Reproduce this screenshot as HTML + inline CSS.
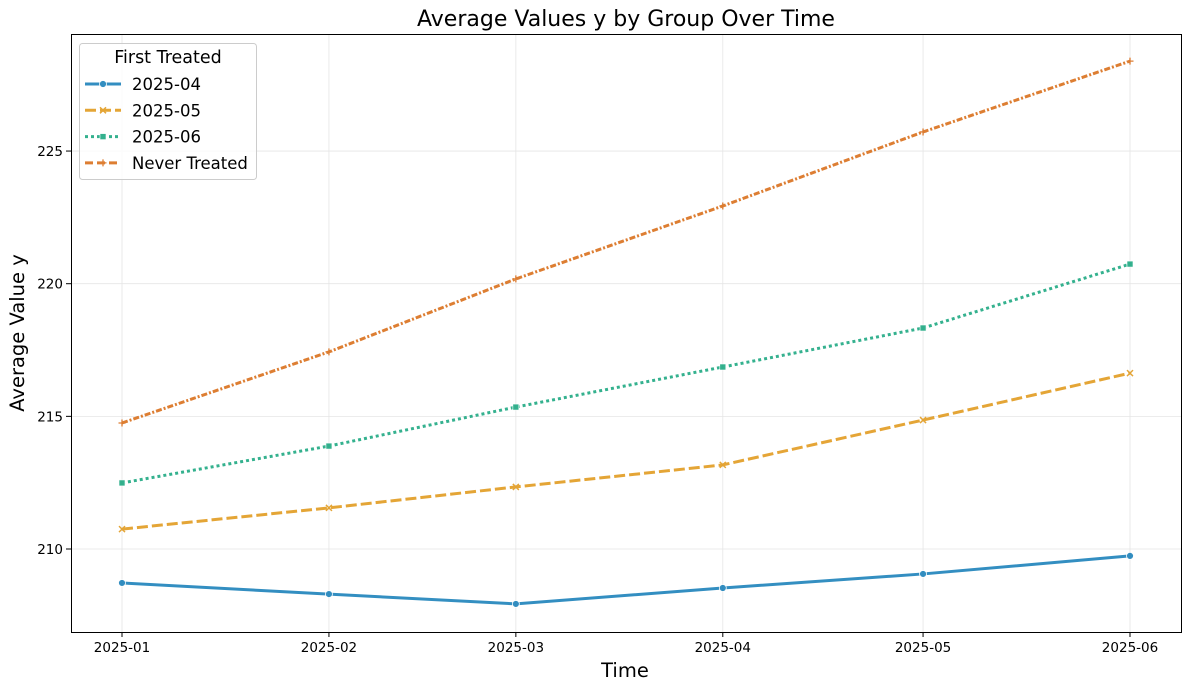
<!DOCTYPE html>
<html><head><meta charset="utf-8"><style>
body{margin:0;background:#fff;font-family:"Liberation Sans","DejaVu Sans",sans-serif}
svg text{font-family:"DejaVu Sans","Liberation Sans",sans-serif}
</style></head><body>
<svg id="chart" width="1189" height="690" xmlns="http://www.w3.org/2000/svg">
<rect x="0" y="0" width="1189" height="690" fill="#fff"/>
<g id="grid"></g>
<g id="axes"></g>
<g id="series"></g>
<rect x="71.5" y="34.5" width="1110" height="598" fill="none" stroke="#000" stroke-width="1"/>
<text x="626" y="26" text-anchor="middle" font-size="22">Average Values y by Group Over Time</text>
<text x="625" y="677" text-anchor="middle" font-size="19.5">Time</text>
<text x="24" y="333" text-anchor="middle" font-size="19.5" transform="rotate(-90 24 333)">Average Value y</text>
<g id="legend"></g>
</svg>
<script>
const categories=["2025-01","2025-02","2025-03","2025-04","2025-05","2025-06"];
const seriesNames=["2025-04","2025-05","2025-06","Never Treated"];
const s0=[208.72,208.30,207.93,208.53,209.06,209.74];
const s1=[210.75,211.55,212.34,213.17,214.86,216.63];
const s2=[212.49,213.88,215.35,216.86,218.33,220.74];
const s3=[214.75,217.43,220.18,222.93,225.72,228.39];
const yTicks=[210,215,220,225];
const NS="http://www.w3.org/2000/svg";
const t0=Date.UTC(2025,0,1), t1=Date.UTC(2025,5,1);
function xS(i){const p=categories[i].split('-');const t=Date.UTC(+p[0],+p[1]-1,1);return 122+(t-t0)/(t1-t0)*1008;}
function yS(v){return 549-(v-210)*26.53;}
function mk(tag,attrs,parent){const e=document.createElementNS(NS,tag);for(const k in attrs)e.setAttribute(k,attrs[k]);parent.appendChild(e);return e;}
const grid=document.getElementById('grid'),axes=document.getElementById('axes'),ser=document.getElementById('series'),leg=document.getElementById('legend');
categories.forEach((c,i)=>{const x=xS(i);
 const g=mk('line',{x1:x,x2:x,y1:34,y2:632,stroke:'#e5e5e5','stroke-width':0.8},grid);
 
 
 mk('line',{x1:x,x2:x,y1:632,y2:637,stroke:'#000'},axes);
 const t=mk('text',{x:x,y:652,'text-anchor':'middle','font-size':13.5},axes);t.textContent=c;
 
 
});
yTicks.forEach(v=>{const y=yS(v);
 const g=mk('line',{x1:71,x2:1181,y1:y,y2:y,stroke:'#e5e5e5','stroke-width':0.8},grid);
 
 
 mk('line',{x1:66,x2:71,y1:y,y2:y,stroke:'#000'},axes);
 const t=mk('text',{x:63,y:y+5,'text-anchor':'end','font-size':13.5},axes);t.textContent=v;
 
 
});
const data=[s0,s1,s2,s3];
const colors=["#0173b2","#de8f05","#029e73","#d55e00"];
const dashes=["","11,4","3,3","6,2,2,2"];
const markers=["circle","x","square","plus"];
function marker(type,x,y,c,p){
 if(type==="circle")return mk('circle',{cx:x,cy:y,r:3.5,fill:c,stroke:'#fff','stroke-width':0.8},p);
 if(type==="square")return mk('rect',{x:x-3,y:y-3,width:6,height:6,fill:c,stroke:'#fff','stroke-width':0.6},p);
 if(type==="x")return mk('path',{d:`M${x-3} ${y-3}L${x+3} ${y+3}M${x-3} ${y+3}L${x+3} ${y-3}`,stroke:c,'stroke-width':1.5},p);
 return mk('path',{d:`M${x-3.5} ${y}L${x+3.5} ${y}M${x} ${y-3.5}L${x} ${y+3.5}`,stroke:c,'stroke-width':1.3},p);
}
data.forEach((arr,si)=>{
 const g=mk('g',{opacity:0.8},ser);
 
 
 const d=arr.map((v,i)=>(i?'L':'M')+xS(i)+' '+yS(v)).join('');
 const p=mk('path',{d:d,fill:'none',stroke:colors[si],'stroke-width':3,'stroke-dasharray':dashes[si]},g);
 
 
 arr.forEach((v,i)=>{const m=marker(markers[si],xS(i),yS(v),colors[si],g);
  
  });
});
const box=mk('rect',{x:79.5,y:43.5,width:177,height:136,rx:3,fill:'#fff','fill-opacity':0.8,stroke:'#ccc'},leg);


const lt=mk('text',{x:168,y:63,'text-anchor':'middle','font-size':17.5},leg);lt.textContent="First Treated";


const legDash=["","11,4","3,3","8,4"];
seriesNames.forEach((n,i)=>{const y=84+i*26.3;
 const g=mk('g',{opacity:0.8},leg);
 
 
 mk('line',{x1:85,x2:121,y1:y,y2:y,stroke:colors[i],'stroke-width':3,'stroke-dasharray':legDash[i]},g);
 marker(markers[i],103,y,colors[i],g);
 const t=mk('text',{x:132,y:y+6,'font-size':16.5},leg);t.textContent=n;
 
 
});
</script>
</body></html>
